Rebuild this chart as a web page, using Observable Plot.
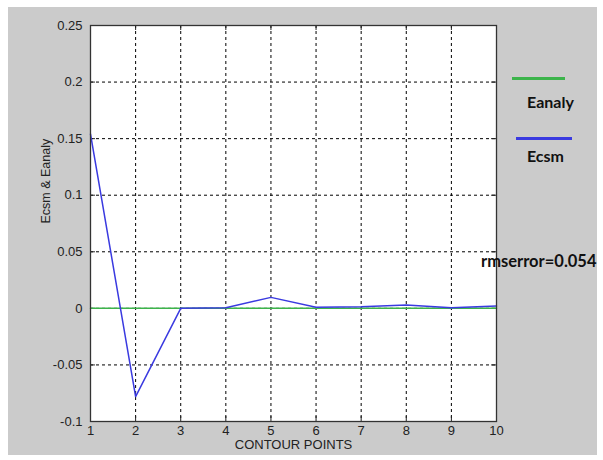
<!DOCTYPE html>
<html><head><meta charset="utf-8">
<script src="https://cdn.jsdelivr.net/npm/d3@7"></script>
<script src="https://cdn.jsdelivr.net/npm/@observablehq/plot@0.6"></script>
<style>
body{margin:0;background:#fff;}
#wrap{position:relative;width:603px;height:460px;overflow:hidden;}
#bg{position:absolute;left:8px;top:7px;width:589px;height:448px;background:#cbcbcb;}
#chart{position:absolute;left:0;top:0;}
.leg{position:absolute;font-family:Lato,"Open Sans",sans-serif;font-weight:bold;color:#111;white-space:nowrap;line-height:1;}
.legline{position:absolute;height:3px;}
</style></head><body>
<div id="wrap"><div id="bg"></div><div id="chart"></div></div>
<script>
const points = [1, 2, 3, 4, 5, 6, 7, 8, 9, 10];
const ecsm = [0.154, -0.078, 0.0, 0.0005, 0.0097, 0.001, 0.0015, 0.003, 0.0005, 0.002];
const eanaly = [0, 0, 0, 0, 0, 0, 0, 0, 0, 0];
const xTicks = [1, 2, 3, 4, 5, 6, 7, 8, 9, 10];
const yTicks = [-0.1, -0.05, 0, 0.05, 0.1, 0.15, 0.2, 0.25];
const yTickLabels = ["-0.1", "-0.05", "0", "0.05", "0.1", "0.15", "0.2", "0.25"];
const seriesNames = ["Eanaly", "Ecsm"];
const seriesColors = ["#3cb44b", "#3a3ae0"];
const xLabel = "CONTOUR POINTS";
const yLabel = "Ecsm & Eanaly";
const rmsLabel = "rmserror=0.054";

const ecsmData = points.map((p, i) => ({x: p, y: ecsm[i]}));
const eanalyData = points.map((p, i) => ({x: p, y: eanaly[i]}));

const yMin = -0.1, yMax = 0.25, xMin = 1, xMax = 10;
const tickLenY = 0.0044, tickLenX = 0.11;

const chart = Plot.plot({
  width: 603,
  height: 460,
  marginLeft: 90,
  marginRight: 107,
  marginTop: 25,
  marginBottom: 39,
  style: {background: "transparent", fontFamily: "'Liberation Sans', Arial, sans-serif", fontSize: "13px", color: "#222"},
  x: {domain: [xMin, xMax]},
  y: {domain: [yMin, yMax]},
  marks: [
    Plot.frame({fill: "white", stroke: null}),
    Plot.gridX(xTicks, {stroke: "black", strokeOpacity: 1, strokeDasharray: "3,3", strokeWidth: 1}),
    Plot.gridY(yTicks, {stroke: "black", strokeOpacity: 1, strokeDasharray: "3,3", strokeWidth: 1}),
    Plot.ruleX(xTicks, {x: d => d, y1: yMin, y2: yMin + tickLenY, stroke: "#222"}),
    Plot.ruleX(xTicks, {x: d => d, y1: yMax, y2: yMax - tickLenY, stroke: "#222"}),
    Plot.ruleY(yTicks, {y: d => d, x1: xMin, x2: xMin + tickLenX, stroke: "#222"}),
    Plot.ruleY(yTicks, {y: d => d, x1: xMax, x2: xMax - tickLenX, stroke: "#222"}),
    Plot.line(eanalyData, {x: "x", y: "y", stroke: seriesColors[0], strokeWidth: 1.5}),
    Plot.line(ecsmData, {x: "x", y: "y", stroke: seriesColors[1], strokeWidth: 1.5}),
    Plot.frame({stroke: "#333", strokeWidth: 1.3}),
    Plot.axisX(xTicks, {tickSize: 0, tickPadding: 4, label: null, fontSize: 13}),
    Plot.axisY(yTicks, {tickSize: 0, tickPadding: 8, label: null, tickFormat: d => yTickLabels[yTicks.indexOf(d)], fontSize: 13}),
    Plot.text([xLabel], {frameAnchor: "bottom", dy: 27, text: d => d, fontSize: 13}),
    Plot.text([yLabel], {frameAnchor: "left", dx: -45, rotate: -90, text: d => d, fontSize: 12.5})
  ]
});
document.getElementById("chart").appendChild(chart);

const wrap = document.getElementById("wrap");
function addDiv(cls, style, text) {
  const d = document.createElement("div");
  d.className = cls;
  Object.assign(d.style, style);
  if (text) d.textContent = text;
  wrap.appendChild(d);
}
addDiv("legline", {left: "512px", top: "77px", width: "53px", background: seriesColors[0]});
addDiv("leg", {left: "527px", top: "94px", fontSize: "16px"}, seriesNames[0]);
addDiv("legline", {left: "516px", top: "137px", width: "56px", background: seriesColors[1]});
addDiv("leg", {left: "527px", top: "148px", fontSize: "16px"}, seriesNames[1]);
addDiv("leg", {left: "481px", top: "253px", fontSize: "16.5px"}, rmsLabel);
</script>
</body></html>
